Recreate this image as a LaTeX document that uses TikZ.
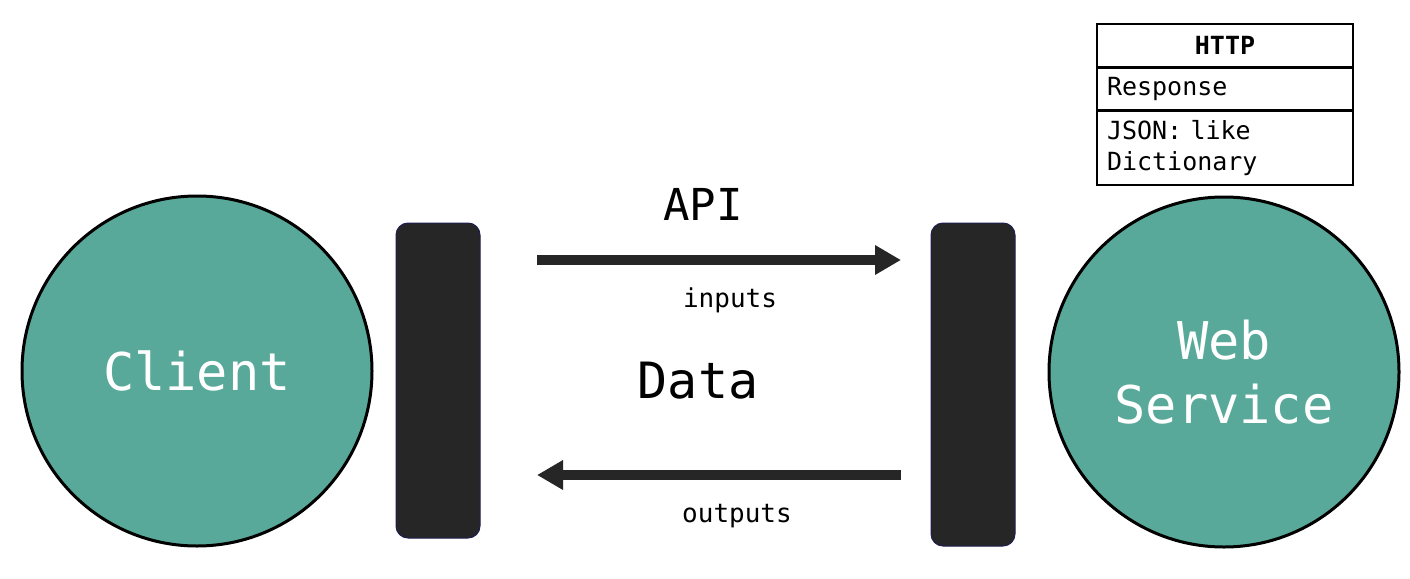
\documentclass[tikz,border=0pt]{standalone}
\usepackage{fontspec}
\setmonofont{DejaVu Sans Mono}
\usetikzlibrary{arrows.meta}
\definecolor{teal1}{RGB}{89,169,154}
\definecolor{barc}{RGB}{38,38,38}
\tikzset{
  ent/.style={circle,draw=black,line width=3pt,fill=teal1,minimum size=350pt,inner sep=0pt,text=white,font=\ttfamily\fontsize{52}{62}\selectfont,align=center},
  bar/.style={rectangle,rounded corners=12pt,fill=barc,draw=barc!80!blue,line width=1pt,minimum width=84pt,inner sep=0pt},
  big/.style={font=\ttfamily\fontsize{44}{50}\selectfont},
  small/.style={font=\ttfamily\fontsize{26}{30}\selectfont},
  cell/.style={rectangle,draw=black,line width=1.5pt,minimum width=256pt,inner sep=0pt,font=\ttfamily\fontsize{25}{31}\selectfont,align=left,text width=236pt},
  flow/.style={line width=10pt,draw=barc,-{Triangle[length=26pt,width=28pt]}}
}
\begin{document}
\frenchspacing
\begin{tikzpicture}[x=1pt,y=-1pt]
\useasboundingbox (0,0) rectangle (1410,578);
\fill[white] (0,0) rectangle (1410,578);
\node[ent] (client) at (197,371) {Client};
\node[ent] (web) at (1224,372) {Web\\[2pt]Service};
\node[bar,minimum height=315pt] (lbar) at (438,380.5) {};
\node[bar,minimum height=323pt] (rbar) at (973,384.5) {};
\coordinate (a1) at (537,260);
\coordinate (a2) at (901,260);
\coordinate (b1) at (901,475);
\coordinate (b2) at (537,475);
\draw[flow] (a1) -- (a2);
\draw[flow] (b1) -- (b2);
\node[big] (api) at (703,204) {API};
\node[small] (inputs) at (730,300) {inputs};
\node[big,font=\ttfamily\fontsize{50}{56}\selectfont] (data) at (698,381) {Data};
\node[small] (outputs) at (737,516) {outputs};
\node[cell,minimum height=43pt,align=center,font=\ttfamily\bfseries\fontsize{25}{31}\selectfont] (http) at (1225,45.5) {HTTP};
\node[cell,minimum height=41pt,anchor=north] (resp) at (http.south) {Response};
\node[cell,minimum height=74pt,anchor=north] (json) at (resp.south) {JSON: like\\Dictionary};
\end{tikzpicture}
\end{document}
